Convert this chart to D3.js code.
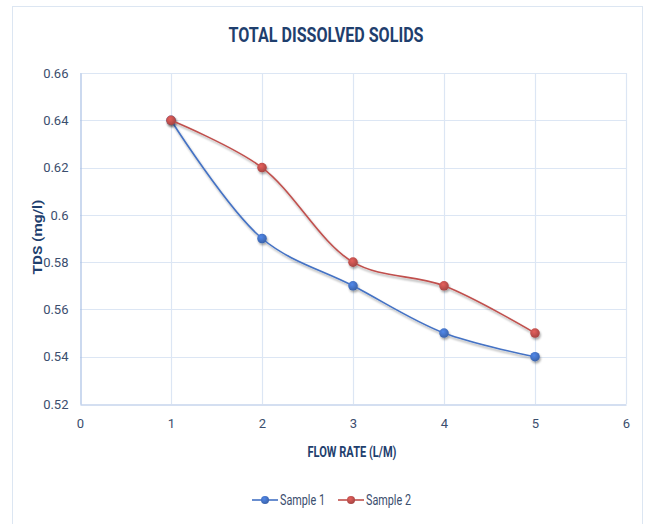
<!DOCTYPE html>
<html>
<head>
<meta charset="utf-8">
<script src="https://cdn.jsdelivr.net/npm/d3@7"></script>
<style>
  html, body { margin: 0; padding: 0; background: #fff; }
  svg { display: block; }
  text { font-family: Roboto, "Liberation Sans", sans-serif; }
</style>
</head>
<body>
<svg id="chart" width="649" height="524"></svg>
<script>
// Flow rate (L/M) readings and TDS per sample
const flowRates = [1, 2, 3, 4, 5];
const sample1 = [0.64, 0.59, 0.57, 0.55, 0.54];
const sample2 = [0.64, 0.62, 0.58, 0.57, 0.55];
const seriesNames = ["Sample 1", "Sample 2"];
const seriesColors = ["#4472C4", "#C0504D"];
const xTicks = [0, 1, 2, 3, 4, 5, 6];
const yTicks = [0.52, 0.54, 0.56, 0.58, 0.6, 0.62, 0.64, 0.66];

const svg = d3.select("#chart");
const W = 649, H = 524;
const margin = { left: 80, right: 23, top: 73, bottom: 120 };
const navy = "#1F3F6E";
const tickColor = "#3B4E6E";

// chart frame
svg.append("rect")
  .attr("x", 12.5).attr("y", 6.5)
  .attr("width", 630).attr("height", 530)
  .attr("fill", "#fff").attr("stroke", "#DCE6F2").attr("stroke-width", 1);

const defs = svg.append("defs");
const shadow = defs.append("filter").attr("id", "shadow")
  .attr("x", "-10%").attr("y", "-10%").attr("width", "130%").attr("height", "130%");
shadow.append("feDropShadow").attr("dx", 1).attr("dy", 2).attr("stdDeviation", 1.2)
  .attr("flood-color", "#000").attr("flood-opacity", 0.35);

seriesColors.forEach((c, i) => {
  const g = defs.append("radialGradient").attr("id", "mk" + i)
    .attr("cx", "40%").attr("cy", "35%").attr("r", "65%");
  g.append("stop").attr("offset", "0%").attr("stop-color", d3.color(c).brighter(0.5));
  g.append("stop").attr("offset", "100%").attr("stop-color", d3.color(c).darker(0.4));
});

const x = d3.scaleLinear().domain([0, 6]).range([margin.left, W - margin.right]);
const y = d3.scaleLinear().domain([0.52, 0.66]).range([H - margin.bottom, margin.top]);

// horizontal gridlines
svg.append("g")
  .selectAll("line").data(yTicks.slice(1)).join("line")
  .attr("x1", x(0)).attr("x2", x(6))
  .attr("y1", d => Math.round(y(d)) + 0.5).attr("y2", d => Math.round(y(d)) + 0.5)
  .attr("stroke", "#DCE6F4").attr("stroke-width", 1.2);

// vertical gridlines
svg.append("g")
  .selectAll("line").data(xTicks.slice(1)).join("line")
  .attr("y1", y(0.52)).attr("y2", y(0.66))
  .attr("x1", d => Math.round(x(d)) + 0.5).attr("x2", d => Math.round(x(d)) + 0.5)
  .attr("stroke", "#DCE6F4").attr("stroke-width", 1.2);

// axes
const xAxis = svg.append("g")
  .attr("transform", `translate(0,${Math.round(y(0.52)) + 0.5})`)
  .call(d3.axisBottom(x).tickValues(xTicks).tickFormat(d3.format("d")).tickSize(0).tickPadding(14));
const yAxis = svg.append("g")
  .attr("transform", `translate(${Math.round(x(0)) + 0.5},0)`)
  .call(d3.axisLeft(y).tickValues(yTicks).tickFormat(d => String(+d.toFixed(2))).tickSize(0).tickPadding(12));
[xAxis, yAxis].forEach(a => {
  a.select(".domain").attr("stroke", "#A9C0E4").attr("stroke-width", 1.2);
  a.selectAll("text").attr("fill", tickColor).attr("font-size", 13)
    .attr("font-family", "Roboto, sans-serif");
});

// title and axis titles
svg.append("text").attr("x", 326).attr("y", 42)
  .attr("text-anchor", "middle").attr("font-size", 21).attr("font-weight", "bold")
  .attr("textLength", 195).attr("lengthAdjust", "spacingAndGlyphs")
  .attr("fill", navy).text("TOTAL DISSOLVED SOLIDS");
svg.append("text").attr("x", 352).attr("y", 457)
  .attr("text-anchor", "middle").attr("font-size", 14.5).attr("font-weight", "bold")
  .attr("textLength", 89).attr("lengthAdjust", "spacingAndGlyphs")
  .attr("fill", navy).text("FLOW RATE (L/M)");
svg.append("text")
  .attr("transform", "translate(42,237) rotate(-90)")
  .attr("text-anchor", "middle").attr("font-size", 13).attr("font-weight", "bold")
  .attr("textLength", 75).attr("lengthAdjust", "spacingAndGlyphs")
  .attr("fill", navy).text("TDS (mg/l)");

// smoothed series lines with markers
const line = d3.line()
  .x((d, i) => x(flowRates[i]))
  .y(d => y(d))
  .curve(d3.curveCatmullRom.alpha(0.5));

[sample1, sample2].forEach((vals, i) => {
  const g = svg.append("g").attr("filter", "url(#shadow)");
  g.append("path").datum(vals)
    .attr("d", line).attr("fill", "none")
    .attr("stroke", seriesColors[i]).attr("stroke-width", 1.6);
  g.selectAll("circle").data(vals).join("circle")
    .attr("cx", (d, j) => x(flowRates[j])).attr("cy", d => y(d))
    .attr("r", 4.8).attr("fill", `url(#mk${i})`);
});

// legend
const legendX = [252, 338];
seriesNames.forEach((name, i) => {
  const g = svg.append("g").attr("transform", `translate(${legendX[i]},500)`);
  g.append("line").attr("x1", 0).attr("x2", 26).attr("stroke", seriesColors[i]).attr("stroke-width", 1.6);
  g.append("circle").attr("cx", 13).attr("r", 4).attr("fill", `url(#mk${i})`);
  g.append("text").attr("x", 28).attr("y", 5).attr("font-size", 14)
    .attr("textLength", 45).attr("lengthAdjust", "spacingAndGlyphs")
    .attr("fill", tickColor).text(name);
});
</script>
</body>
</html>
